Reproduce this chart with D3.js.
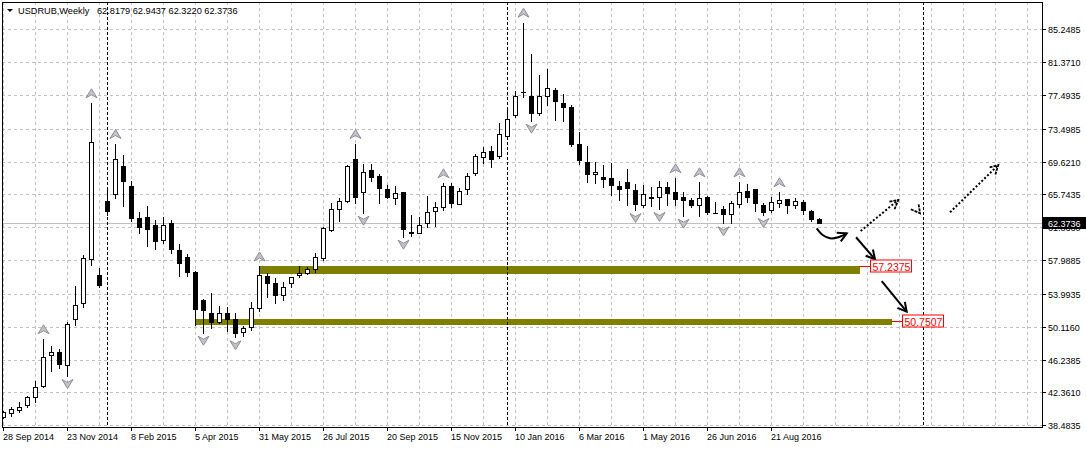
<!DOCTYPE html>
<html><head><meta charset="utf-8">
<script src="https://cdn.jsdelivr.net/npm/d3@7"></script>
<style>
html,body{margin:0;padding:0;background:#fff;}
svg{display:block;font-family:"Liberation Sans",Arial,sans-serif;}
</style></head><body>
<svg id="chart" width="1086" height="449"></svg>
<script>
// ---------------- data ----------------
const symbolName = "USDRUB,Weekly";
const lastOHLC = ["62.8179", "62.9437", "62.3220", "62.3736"];
const opens  = [39.43,39.97,40.29,40.85,41.86,43.12,46.75,47.10,45.57,51.00,52.89,58.09,56.23,64.97,65.76,69.11,66.74,62.93,63.05,62.14,
                60.33,62.41,59.18,58.32,56.59,53.28,51.71,50.72,51.71,51.04,49.47,50.13,52.30,56.11,55.25,53.87,55.32,56.20,56.50,56.90,
                58.20,61.55,63.99,64.97,69.90,66.07,68.60,67.92,66.35,65.36,66.00,61.30,61.16,62.34,63.83,64.30,66.74,64.58,66.35,68.24,
                70.13,70.87,70.29,72.65,75.10,77.80,77.37,75.33,77.37,78.08,76.51,76.11,71.70,69.61,68.12,67.84,67.65,66.74,67.18,66.23,
                64.46,65.36,65.41,66.59,66.00,65.41,65.09,64.46,65.41,63.60,63.99,63.44,64.58,66.12,66.35,64.50,63.91,64.70,65.17,64.46,
                64.89,63.83,62.8179];
const highs  = [40.20,40.61,41.23,42.00,43.72,48.64,47.85,47.46,50.65,54.93,58.60,76.51,57.03,66.47,71.70,70.41,67.37,63.71,64.44,62.73,
                63.05,62.73,59.89,58.71,56.70,53.40,54.07,52.57,52.49,51.71,50.21,53.00,57.24,56.43,55.84,55.44,56.03,57.30,57.21,58.79,
                61.94,64.77,65.29,69.23,71.70,69.34,69.34,68.12,66.86,66.74,66.00,63.32,63.12,65.57,64.81,67.06,67.06,66.47,68.32,70.52,
                71.40,71.50,74.15,75.92,78.00,86.03,82.33,79.87,80.58,78.28,77.57,76.31,73.07,71.50,69.61,69.23,69.49,67.37,68.79,66.94,
                66.86,66.59,67.33,67.18,67.65,66.00,65.29,67.18,65.57,64.89,64.38,65.01,67.18,66.94,66.35,64.70,65.41,66.00,65.17,65.37,
                65.09,63.91,62.9437];
const lows   = [39.30,39.62,40.09,40.70,41.20,43.04,44.93,45.29,44.31,50.33,52.50,57.41,54.85,63.32,65.29,64.38,62.64,61.16,59.69,59.25,
                60.05,58.80,56.11,56.11,50.33,49.42,50.01,50.60,49.65,48.88,49.03,49.74,51.98,53.67,52.96,53.28,54.85,56.00,56.35,56.62,
                58.00,61.47,62.64,64.85,64.77,63.59,67.37,64.77,65.29,64.61,60.76,60.84,61.16,61.87,62.02,63.91,64.22,64.58,65.76,68.04,
                69.50,69.03,70.05,72.40,74.93,77.30,74.46,75.12,76.31,74.54,74.46,71.46,69.34,67.25,67.06,66.67,65.68,65.09,64.50,63.91,
                64.22,64.38,64.03,64.50,64.50,63.24,64.30,63.24,63.44,63.52,62.34,62.41,64.22,64.81,63.83,63.32,63.64,64.30,63.52,64.18,
                63.40,62.60,62.3220];
const closes = [40.09,40.37,40.61,41.86,43.04,46.58,47.10,45.69,50.41,52.69,58.20,71.90,55.05,63.83,69.90,67.37,63.00,61.94,61.63,60.28,
                62.10,59.25,57.69,56.62,52.18,52.10,50.72,51.78,51.04,49.42,49.94,52.30,56.23,55.25,53.87,54.85,55.99,56.50,56.94,58.39,
                61.75,63.99,64.97,69.11,65.41,68.36,67.80,66.47,65.48,65.95,61.63,61.25,62.17,63.64,64.30,66.74,64.70,66.15,67.92,70.29,
                70.79,69.90,72.85,74.62,77.41,77.85,75.33,77.41,78.28,76.82,76.11,71.70,69.82,68.16,68.40,67.53,66.90,66.35,66.47,64.58,
                65.80,65.40,66.67,65.88,65.21,65.09,64.50,65.29,63.71,63.58,63.40,64.70,66.00,65.48,64.70,63.71,64.81,65.09,64.50,65.01,
                63.91,62.81,62.3736];
const dateLabels = ["28 Sep 2014","23 Nov 2014","8 Feb 2015","5 Apr 2015","31 May 2015","26 Jul 2015","20 Sep 2015",
                    "15 Nov 2015","10 Jan 2016","6 Mar 2016","1 May 2016","26 Jun 2016","21 Aug 2016"];
const dateLabelBars = [0,8,16,24,32,40,48,56,64,72,80,88,96];
const priceTicks = [85.2485,81.3710,77.4935,73.4985,69.6210,65.7435,61.8660,57.9885,53.9935,50.1160,46.2385,42.3610,38.4835];
const upFractals = [5,11,14,32,44,55,65,84,87,92,97];
const downFractals = [8,25,29,45,50,66,79,82,85,90,95];
const separatorBars = [13,63,115];
const levelValues = [57.2375, 50.7507];
const levelStartBars = [32, 24];
const levelEndBars = [107, 111];
const levelBandLows = [56.31, 50.33];
const levelBandHighs = [57.2375, 51.04];
const currentPrice = 62.3736;
// hand-drawn arrows: [bar index, price] points
const solidArrows = [
  [[101.71,61.75],[102.46,60.96],[103.38,60.57],[104.41,60.69],[105.46,61.16]],
  [[106.63,60.69],[109.00,58.09]],
  [[109.84,55.52],[112.96,51.90]]
];
const dottedArrows = [
  [[107.21,61.43],[111.91,65.09]],
  [[118.38,63.64],[124.41,69.22]]
];
const loneHeads = [[[113.63,64.74],[114.63,63.52]]];

(function draw() {
const W = 1086, H = 449;
const pL = 2, pT = 2, pR = 1043, pB = 427;
const totalBars = 130;
const svg = d3.select("#chart");
const x = d3.scaleLinear().domain([0, totalBars]).range([3, 3 + 8 * totalBars]);
const y = d3.scaleLinear().domain([38.4835, 85.2485]).range([425.3, 29.3]);
const px = i => Math.round(x(i)) + 0.5;
const py = v => Math.round(y(v)) + 0.5;

const defs = svg.append("defs");
defs.append("clipPath").attr("id","plotclip").append("rect")
  .attr("x", pL).attr("y", pT).attr("width", pR - pL).attr("height", pB - pT);

const plot = svg.append("g").attr("clip-path","url(#plotclip)");

const gridColor = "#c0c0c0";
const vBars = d3.range(0, totalBars + 1, 4);
plot.append("g").selectAll("line").data(vBars).join("line")
  .attr("x1", d => px(d)).attr("x2", d => px(d)).attr("y1", pT).attr("y2", pB)
  .attr("stroke", gridColor).attr("stroke-width", 1).attr("stroke-dasharray", "3,3");
plot.append("g").selectAll("line").data(priceTicks).join("line")
  .attr("x1", pL).attr("x2", pR).attr("y1", d => py(d)).attr("y2", d => py(d))
  .attr("stroke", gridColor).attr("stroke-width", 1).attr("stroke-dasharray", "3,3");

plot.append("line").attr("x1", pL).attr("x2", pR)
  .attr("y1", py(currentPrice)).attr("y2", py(currentPrice))
  .attr("stroke", "#c0c0c0").attr("stroke-width", 1);

const bandIdx = d3.range(levelValues.length);
plot.append("g").selectAll("rect").data(bandIdx).join("rect")
  .attr("x", i => Math.round(x(levelStartBars[i])))
  .attr("width", i => Math.round(x(levelEndBars[i])) - Math.round(x(levelStartBars[i])) + 1)
  .attr("y", i => Math.round(y(levelBandHighs[i])))
  .attr("height", i => Math.round(y(levelBandLows[i])) - Math.round(y(levelBandHighs[i])))
  .attr("fill", "#808000");

plot.append("g").selectAll("line").data(separatorBars).join("line")
  .attr("x1", d => px(d)).attr("x2", d => px(d)).attr("y1", pT).attr("y2", pB)
  .attr("stroke", "#000").attr("stroke-width", 1).attr("stroke-dasharray", "3,2");

const bars = d3.range(closes.length).map(i => ({i, o: opens[i], h: highs[i], l: lows[i], c: closes[i]}));
const cg = plot.append("g");
cg.selectAll("line.wick").data(bars).join("line").attr("class","wick")
  .attr("x1", d => px(d.i)).attr("x2", d => px(d.i))
  .attr("y1", d => Math.round(y(d.h))).attr("y2", d => Math.round(y(d.l)) + 1)
  .attr("stroke", "#000").attr("stroke-width", 1);
bars.forEach(d => {
  const yo = Math.round(y(d.o)), yc = Math.round(y(d.c));
  const cx = Math.round(x(d.i));
  if (Math.abs(yo - yc) < 1) {
    cg.append("line").attr("x1", cx - 2).attr("x2", cx + 3)
      .attr("y1", yc + 0.5).attr("y2", yc + 0.5).attr("stroke", "#000");
  } else {
    const bull = d.c > d.o;
    cg.append("rect").attr("x", cx - 1.5).attr("width", 4)
      .attr("y", Math.min(yo, yc) + 0.5).attr("height", Math.abs(yo - yc))
      .attr("fill", bull ? "#fff" : "#000").attr("stroke", "#000").attr("stroke-width", 1);
  }
});

const upPath = "M0,-4.5 L5.5,4.5 L0,1.5 L-5.5,4.5 Z";
const dnPath = "M0,4.5 L5.5,-4.5 L0,-1.5 L-5.5,-4.5 Z";
plot.append("g").selectAll("path").data(upFractals).join("path")
  .attr("d", upPath)
  .attr("transform", i => `translate(${px(i)},${y(highs[i]) - 10})`)
  .attr("fill", "#c4c4c8").attr("stroke", "#8c8c96").attr("stroke-width", 1);
plot.append("g").selectAll("path").data(downFractals).join("path")
  .attr("d", dnPath)
  .attr("transform", i => `translate(${px(i)},${y(lows[i]) + 8})`)
  .attr("fill", "#c4c4c8").attr("stroke", "#8c8c96").attr("stroke-width", 1);

function headPath(p0, p1) {
  const ang = Math.atan2(p1[1] - p0[1], p1[0] - p0[0]);
  const L = 10, a = 0.5;
  const l1 = [p1[0] - L * Math.cos(ang - a), p1[1] - L * Math.sin(ang - a)];
  const l2 = [p1[0] - L * Math.cos(ang + a), p1[1] - L * Math.sin(ang + a)];
  return `M${l1[0]},${l1[1]} L${p1[0]},${p1[1]} L${l2[0]},${l2[1]}`;
}
const toPx = p => [x(p[0]), y(p[1])];
const ag = svg.append("g");
const lineGen = d3.line().curve(d3.curveCatmullRom);
solidArrows.forEach(pts => {
  const P = pts.map(toPx);
  ag.append("path").attr("d", lineGen(P)).attr("fill","none").attr("stroke","#000").attr("stroke-width",2);
  ag.append("path").attr("d", headPath(P[P.length-2], P[P.length-1])).attr("fill","none").attr("stroke","#000").attr("stroke-width",2);
});
dottedArrows.forEach(pts => {
  const P = pts.map(toPx);
  ag.append("path").attr("d", lineGen(P)).attr("fill","none").attr("stroke","#000").attr("stroke-width",2).attr("stroke-dasharray","2,2");
  ag.append("path").attr("d", headPath(P[P.length-2], P[P.length-1])).attr("fill","none").attr("stroke","#000").attr("stroke-width",1.8).attr("stroke-dasharray","3,1");
});
loneHeads.forEach(pts => {
  const P = pts.map(toPx);
  ag.append("path").attr("d", headPath(P[0], P[1])).attr("fill","none").attr("stroke","#000").attr("stroke-width",1.8).attr("stroke-dasharray","3,1");
});

bandIdx.forEach(i => {
  const yl = py(levelValues[i]);
  const x0 = Math.round(x(levelEndBars[i]));
  ag.append("line").attr("x1", x0).attr("x2", x0 + 11).attr("y1", yl).attr("y2", yl).attr("stroke", "#ff0000");
  ag.append("rect").attr("x", x0 + 11.5).attr("y", yl - 6.5).attr("width", 41).attr("height", 12)
    .attr("fill", "#fff").attr("stroke", "#ff0000");
  ag.append("text").attr("x", x0 + 13.5).attr("y", yl + 4).attr("fill", "#ff0000")
    .attr("font-size", "10.5px").text(levelValues[i].toFixed(4));
});

svg.append("rect").attr("x", pL + 0.5).attr("y", pT + 0.5).attr("width", pR - pL - 1).attr("height", pB - pT)
  .attr("fill", "none").attr("stroke", "#000");

const ya = svg.append("g").attr("font-size", "9px");
ya.selectAll("line").data(priceTicks).join("line")
  .attr("x1", pR).attr("x2", pR + 3).attr("y1", d => py(d)).attr("y2", d => py(d)).attr("stroke", "#000");
ya.selectAll("text").data(priceTicks).join("text")
  .attr("x", 1048).attr("y", d => py(d) + 3).attr("fill", "#000").text(d => d.toFixed(4));
const cpy = py(currentPrice);
svg.append("rect").attr("x", pR).attr("y", cpy - 6.5).attr("width", W - pR).attr("height", 12).attr("fill", "#000");
svg.append("text").attr("x", 1048).attr("y", cpy + 3).attr("fill", "#fff").attr("font-size", "9px").text(currentPrice.toFixed(4));

const xa = svg.append("g").attr("font-size", "9px");
xa.selectAll("line").data(dateLabelBars).join("line")
  .attr("x1", d => px(d)).attr("x2", d => px(d)).attr("y1", pB).attr("y2", pB + 4).attr("stroke", "#000");
xa.selectAll("text").data(dateLabelBars).join("text")
  .attr("x", d => Math.round(x(d))).attr("y", 439.5).attr("fill", "#000")
  .text((d, k) => dateLabels[k]);

svg.append("path").attr("d", "M7,9 L13,9 L10,12 Z").attr("fill", "#000");
svg.append("text").attr("x", 18).attr("y", 14).attr("font-size", "9.2px").attr("fill", "#000").text(symbolName);
svg.append("text").attr("x", 97).attr("y", 14).attr("font-size", "9.2px").attr("fill", "#000").text(lastOHLC.join(" "));
})();
</script>
</body></html>
